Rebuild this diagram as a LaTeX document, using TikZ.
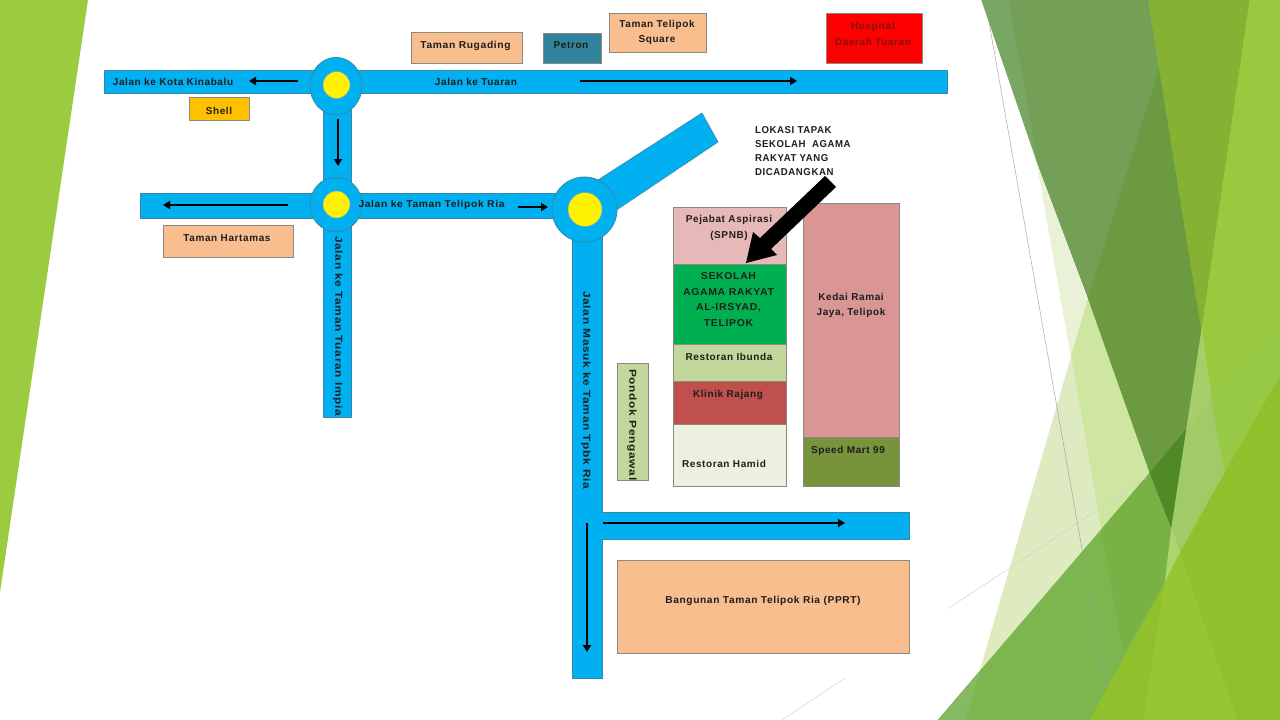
\documentclass[tikz,border=0pt]{standalone}
\usepackage{fontspec}
\setmainfont[LetterSpace=6]{Liberation Sans}
\usetikzlibrary{arrows.meta}
\definecolor{road}{HTML}{00B0F0}
\definecolor{roadline}{HTML}{3A86A8}
\definecolor{peach}{HTML}{F8BE8E}
\definecolor{boxline}{HTML}{8A8A80}
\definecolor{ink}{HTML}{1E1E1E}
\definecolor{HTMLleft}{HTML}{9BCB3F}
\definecolor{HTMLa}{HTML}{E9F2D6}
\definecolor{HTMLb}{HTML}{DEEBC0}
\definecolor{HTMLc}{HTML}{CFE5A2}
\definecolor{HTMLd}{HTML}{7DB64F}
\definecolor{HTMLe}{HTML}{85BA63}
\definecolor{HTMLf}{HTML}{78B245}
\definecolor{HTMLg}{HTML}{739F56}
\definecolor{HTMLh}{HTML}{7AA663}
\definecolor{HTMLi}{HTML}{6B9A40}
\definecolor{HTMLj}{HTML}{4F8A26}
\definecolor{HTMLk}{HTML}{85B232}
\definecolor{HTMLl}{HTML}{98C93E}
\definecolor{HTMLm}{HTML}{A6CE6A}
\definecolor{HTMLn}{HTML}{A0CB66}
\definecolor{HTMLo}{HTML}{ACD570}
\definecolor{HTMLp}{HTML}{97C945}
\definecolor{HTMLq}{HTML}{90C02C}
\definecolor{HTMLr}{HTML}{96C632}
\definecolor{HTMLpetron}{HTML}{31849B}
\definecolor{HTMLshell}{HTML}{FFC000}
\definecolor{HTMLpink}{HTML}{E6B9B8}
\definecolor{HTMLgreen}{HTML}{00B050}
\definecolor{HTMLolive}{HTML}{C3D69B}
\definecolor{HTMLbrick}{HTML}{C0504D}
\definecolor{HTMLcream}{HTML}{EBF1DE}
\definecolor{HTMLrose}{HTML}{D99694}
\definecolor{HTMLmoss}{HTML}{77933C}
\definecolor{HTMLredink}{HTML}{7A1414}
\tikzset{
  roadshape/.style={fill=road,draw=roadline,line width=.6pt},
  ring/.style={circle,fill=road,draw=roadline,line width=.8pt,inner sep=0pt},
  hub/.style={circle,fill=yellow,draw=roadline!70,line width=.5pt,minimum size=27pt,inner sep=0pt},
  box/.style={draw=boxline,line width=.8pt,inner sep=0pt,anchor=north west},
  rlab/.style={inner sep=0pt,font=\bfseries\fontsize{10}{15}\selectfont,text=ink,align=center},
  lab/.style={rlab,yshift=-1.5pt},
  way/.style={line width=2pt,black,-{Triangle[length=7pt,width=8pt]}},
  facet/.style={line width=.7pt},
  hair/.style={line width=.4pt}
}
\begin{document}
\begin{tikzpicture}[x=1pt,y=-1pt]
\useasboundingbox (0,0) rectangle (1280,720);
\fill[white] (0,0) rectangle (1280,720);
% left facet
\fill[fill=HTMLleft] (0,0) -- (88,0) -- (0,592) -- cycle;
% right facets
\begin{scope}[shift={(920,0)},x=0.33333pt,y=-0.45914pt]
\filldraw[facet,color=HTMLa] (350,350) -- (690,1030) -- (545,1153) -- cycle;
\filldraw[facet,color=HTMLb] (505,650) -- (690,1030) -- (180,1462) -- cycle;
\filldraw[facet,color=HTMLc] (505,650) -- (690,1030) -- (545,1153) -- (455,775) -- cycle;
\filldraw[facet,color=HTMLd] (55,1568) -- (690,1030) -- (755,1150) -- (735,1270) -- (510,1568) -- cycle;
\filldraw[facet,color=HTMLe] (55,1568) -- (180,1462) -- (135,1568) -- cycle;
\filldraw[facet,color=HTMLf] (545,1153) -- (690,1030) -- (755,1150) -- (735,1270) -- (610,1420) -- cycle;
\filldraw[facet,color=HTMLg] (265,0) -- (685,0) -- (718,150) -- (505,650) -- (350,350) -- cycle;
\filldraw[facet,color=HTMLh] (185,0) -- (265,0) -- (350,350) -- cycle;
\filldraw[facet,color=HTMLi] (718,150) -- (845,720) -- (800,935) -- (690,1030) -- (505,650) -- cycle;
\filldraw[facet,color=HTMLj] (690,1030) -- (800,935) -- (755,1150) -- cycle;
\filldraw[facet,color=HTMLk] (685,0) -- (990,0) -- (845,720) -- cycle;
\filldraw[facet,color=HTMLl] (990,0) -- (1080,0) -- (1080,700) -- (875,870) -- (845,720) -- cycle;
\filldraw[facet,color=HTMLm] (845,720) -- (875,870) -- (800,935) -- cycle;
\filldraw[facet,color=HTMLn] (800,935) -- (875,870) -- (915,1030) -- (780,1205) -- (755,1150) -- cycle;
\filldraw[facet,color=HTMLo] (755,1150) -- (780,1205) -- (735,1270) -- cycle;
\filldraw[facet,color=HTMLp] (875,870) -- (1080,700) -- (1080,820) -- (915,1030) -- cycle;
\filldraw[facet,color=HTMLq] (915,1030) -- (1080,820) -- (1080,1568) -- (510,1568) -- (735,1270) -- (780,1205) -- cycle;
\filldraw[facet,color=HTMLr] (735,1270) -- (780,1205) -- (950,1568) -- (670,1568) -- cycle;
\coordinate (h1) at (205,40); \coordinate (h2) at (560,1500);
\coordinate (h3) at (85,1325); \coordinate (h4) at (680,1040);
\draw[hair,color=black!40] (h1) -- (h2);
\draw[hair,color=black!20] (h3) -- (h4);
\end{scope}
\coordinate (h5) at (782,720); \coordinate (h6) at (845,678);
\draw[hair,color=black!20] (h5) -- (h6);
% roads
\draw[roadshape] (104,70) rectangle (947,93);
\draw[roadshape] (323,93) rectangle (351,417);
\draw[roadshape] (140,193) rectangle (590,218);
\draw[roadshape] (572,215) -- (602,215) -- (602,512) -- (909,512) -- (909,539) -- (602,539) -- (602,678) -- (572,678) -- cycle;
\draw[roadshape] (598,180) -- (702,113) -- (718,142) -- (612,213) -- cycle;
% roundabouts
\node[ring,minimum width=52pt,minimum height=52pt,yscale=1.1] (r1) at (336,86) {};
\node[ring,minimum width=52pt,minimum height=52pt,yscale=1.05] (r2) at (336,204.5) {};
\node[ring,minimum size=65pt] (r3) at (584.5,209.5) {};
\node[hub] (y1) at (336.5,85) {};
\node[hub] (y2) at (336.5,204.5) {};
\node[hub,minimum size=34pt] (y3) at (585,209.5) {};
% buildings
\node[box,fill=peach,minimum width=111pt,minimum height=31pt] (rugading) at (411,32) {};
\node[box,fill=HTMLpetron,minimum width=58pt,minimum height=30pt] (petron) at (543,33) {};
\node[box,fill=peach,minimum width=97pt,minimum height=39pt] (square) at (609,13) {};
\node[box,fill=red,minimum width=96pt,minimum height=50pt] (hospital) at (826,13) {};
\node[box,fill=HTMLshell,minimum width=60pt,minimum height=23pt] (shell) at (189,97) {};
\node[box,fill=peach,minimum width=130pt,minimum height=32pt] (hartamas) at (163,225) {};
\node[box,fill=HTMLpink,minimum width=113pt,minimum height=57pt] (pejabat) at (673,207) {};
\node[box,fill=HTMLgreen,minimum width=113pt,minimum height=80pt] (sekolah) at (673,264) {};
\node[box,fill=HTMLolive,minimum width=113pt,minimum height=37pt] (ibunda) at (673,344) {};
\node[box,fill=HTMLbrick,minimum width=113pt,minimum height=43pt] (klinik) at (673,381) {};
\node[box,fill=HTMLcream,minimum width=113pt,minimum height=62pt] (hamid) at (673,424) {};
\node[box,fill=HTMLrose,minimum width=96pt,minimum height=234pt] (kedai) at (803,203) {};
\node[box,fill=HTMLmoss,minimum width=96pt,minimum height=49pt] (speed) at (803,437) {};
\node[box,fill=HTMLolive,minimum width=31pt,minimum height=117pt] (pondok) at (617,363) {};
\node[box,fill=peach,minimum width=292pt,minimum height=93pt] (pprt) at (617,560) {};
% labels
\node[lab,xscale=1.03] (t1) at (465.5,44) {Taman Rugading};
\node[lab] (t2) at (571,44) {Petron};
\node[lab] (t3) at (657,31) {Taman Telipok\\Square};
\node[lab,text=HTMLredink,font=\bfseries\fontsize{10}{16}\selectfont] (t4) at (873,32) {Hospital\\Daerah Tuaran};
\node[lab] (t5) at (173,80) {Jalan ke Kota Kinabalu};
\node[lab] (t6) at (476,80) {Jalan ke Tuaran};
\node[lab] (t7) at (219,109) {Shell};
\node[lab] (t8) at (227,237) {Taman Hartamas};
\node[lab,xscale=1.03] (t9) at (431.5,203) {Jalan ke Taman Telipok Ria};
\node[rlab,rotate=-90,xscale=1.19,anchor=west] (t10) at (338,236) {Jalan ke Taman Tuaran Impia};
\node[rlab,rotate=-90,xscale=1.19,anchor=west] (t11) at (586,291) {Jalan Masuk ke Taman Tpbk Ria};
\node[rlab,rotate=-90,xscale=1.19,anchor=west] (t12) at (632,369) {Pondok Pengawal};
\node[lab,xscale=.96,align=left,anchor=north west,font=\bfseries\fontsize{10}{14.2}\selectfont] (t13) at (755,124.5) {LOKASI TAPAK\\SEKOLAH\ \ AGAMA\\RAKYAT YANG\\DICADANGKAN};
\node[lab,font=\bfseries\fontsize{10}{16}\selectfont] (t14) at (729,226) {Pejabat Aspirasi\\(SPNB)};
\node[lab,xscale=1.05,font=\bfseries\fontsize{10}{15.8}\selectfont] (t15) at (728.5,298) {SEKOLAH\\AGAMA RAKYAT\\AL-IRSYAD,\\TELIPOK};
\node[lab] (t16) at (729,355) {Restoran Ibunda};
\node[lab] (t17) at (728,393) {Klinik Rajang};
\node[lab] (t18) at (724,462) {Restoran Hamid};
\node[lab] (t19) at (851,304) {Kedai Ramai\\Jaya, Telipok};
\node[lab] (t20) at (848,449) {Speed Mart 99};
\node[lab,xscale=1.02] (t21) at (763,599) {Bangunan Taman Telipok Ria (PPRT)};
% big arrow
\coordinate (a1) at (825,176); \coordinate (a2) at (836,187);
\coordinate (a3) at (771,249); \coordinate (a4) at (777,255);
\coordinate (a5) at (746,263); \coordinate (a6) at (753,232); \coordinate (a7) at (760,238);
\fill[black] (a1) -- (a2) -- (a3) -- (a4) -- (a5) -- (a6) -- (a7) -- cycle;
% direction arrows
\coordinate (w1) at (298,81); \coordinate (w2) at (249,81);
\coordinate (w3) at (580,81); \coordinate (w4) at (797,81);
\coordinate (w5) at (338,119); \coordinate (w6) at (338,166);
\coordinate (w7) at (288,205); \coordinate (w8) at (163,205);
\coordinate (w9) at (518,207); \coordinate (w10) at (548,207);
\coordinate (w11) at (603,523); \coordinate (w12) at (845,523);
\coordinate (w13) at (587,523); \coordinate (w14) at (587,652);
\draw[way] (w1) -- (w2);
\draw[way] (w3) -- (w4);
\draw[way] (w5) -- (w6);
\draw[way] (w7) -- (w8);
\draw[way] (w9) -- (w10);
\draw[way] (w11) -- (w12);
\draw[way] (w13) -- (w14);
\end{tikzpicture}
\end{document}
